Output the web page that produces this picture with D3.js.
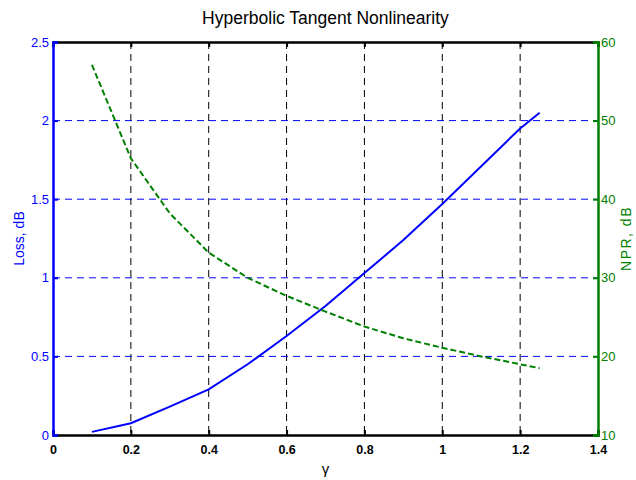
<!DOCTYPE html>
<html><head><meta charset="utf-8">
<script src="https://cdn.jsdelivr.net/npm/d3@7"></script>
<style>body{margin:0;background:#fff}svg{display:block}text{font-family:"Liberation Sans",Arial,sans-serif}</style>
</head><body>
<script>
const gamma = [0.1,0.2,0.3,0.4,0.5,0.6,0.7,0.8,0.9,1.0,1.1,1.2,1.25];
const loss  = [0.02,0.075,0.18,0.29,0.45,0.63,0.82,1.03,1.24,1.47,1.71,1.95,2.05];
const npr   = [57.1,45.2,38.2,33.2,30.0,27.7,25.7,23.8,22.3,21.1,20.0,19.0,18.5];
const xTicks = [0,0.2,0.4,0.6,0.8,1,1.2,1.4];
const lossTicks = [0,0.5,1,1.5,2,2.5];
const nprTicks = [10,20,30,40,50,60];
const title = "Hyperbolic Tangent Nonlinearity";

const W=636,H=480, L=53,R=598,T=42,B=435;
const BLUE="#0000ff", GREEN="#008000";
const svg=d3.select("body").append("svg").attr("width",W).attr("height",H);
const x=d3.scaleLinear().domain([0,1.4]).range([L,R]);
const yl=d3.scaleLinear().domain([0,2.5]).range([B,T]);
const yr=d3.scaleLinear().domain([10,60]).range([B,T]);

// grid
svg.append("g").selectAll("line").data(xTicks.filter(d=>d>0&&d<1.4)).join("line")
  .attr("x1",d=>x(d)).attr("x2",d=>x(d)).attr("y1",T).attr("y2",B)
  .attr("stroke","#000").attr("stroke-width",1).attr("stroke-dasharray","7,5");
svg.append("g").selectAll("line").data(lossTicks.filter(d=>d>0&&d<2.5)).join("line")
  .attr("x1",L).attr("x2",R).attr("y1",d=>yl(d)).attr("y2",d=>yl(d))
  .attr("stroke",BLUE).attr("stroke-width",1).attr("stroke-dasharray","7,5");

// axes
const xb=svg.append("g").attr("transform",`translate(0,${B})`).call(d3.axisBottom(x).tickValues(xTicks).tickSize(-5).tickPadding(10).tickFormat(d3.format("~g")));
const xt=svg.append("g").attr("transform",`translate(0,${T})`).call(d3.axisTop(x).tickValues(xTicks).tickSize(-5).tickFormat(""));
[xb,xt].forEach(g=>{g.select(".domain").attr("stroke","#000").attr("stroke-width",2.5);g.selectAll(".tick line").attr("stroke","#000").attr("stroke-width",2);});
xb.selectAll("text").attr("fill","#000").attr("font-size",12.5).attr("font-weight","bold");

const yla=svg.append("g").attr("transform",`translate(${L},0)`).call(d3.axisLeft(yl).tickValues(lossTicks).tickSize(-5).tickPadding(4).tickFormat(d3.format("~g")));
yla.select(".domain").attr("stroke",BLUE).attr("stroke-width",2.5);
yla.selectAll(".tick line").attr("stroke",BLUE).attr("stroke-width",2);
yla.selectAll("text").attr("fill",BLUE).attr("font-size",13);

const yra=svg.append("g").attr("transform",`translate(${R},0)`).call(d3.axisRight(yr).tickValues(nprTicks).tickSize(-5).tickPadding(3));
yra.select(".domain").attr("stroke",GREEN).attr("stroke-width",2.5);
yra.selectAll(".tick line").attr("stroke",GREEN).attr("stroke-width",2);
yra.selectAll("text").attr("fill",GREEN).attr("font-size",13);

// lines
svg.append("path").datum(gamma.map((g,i)=>[g,loss[i]]))
  .attr("d",d3.line().x(d=>x(d[0])).y(d=>yl(d[1])))
  .attr("fill","none").attr("stroke",BLUE).attr("stroke-width",2);
svg.append("path").datum(gamma.map((g,i)=>[g,npr[i]]))
  .attr("d",d3.line().x(d=>x(d[0])).y(d=>yr(d[1])))
  .attr("fill","none").attr("stroke",GREEN).attr("stroke-width",2).attr("stroke-dasharray","6,3");

// labels
svg.append("text").attr("x",(L+R)/2).attr("y",24).attr("text-anchor","middle").attr("font-size",17.5).attr("fill","#000").text(title);
svg.append("text").attr("x",(L+R)/2).attr("y",474).attr("text-anchor","middle").attr("font-size",15).attr("font-family","'Liberation Serif',serif").attr("fill","#000").text("γ");
svg.append("text").attr("transform",`translate(24,${(T+B)/2}) rotate(-90)`).attr("text-anchor","middle").attr("font-size",14).attr("fill",BLUE).text("Loss, dB");
svg.append("text").attr("transform",`translate(631,${(T+B)/2}) rotate(-90)`).attr("text-anchor","middle").attr("font-size",14).attr("letter-spacing",1.5).attr("fill",GREEN).text("NPR, dB");
</script>
</body></html>
